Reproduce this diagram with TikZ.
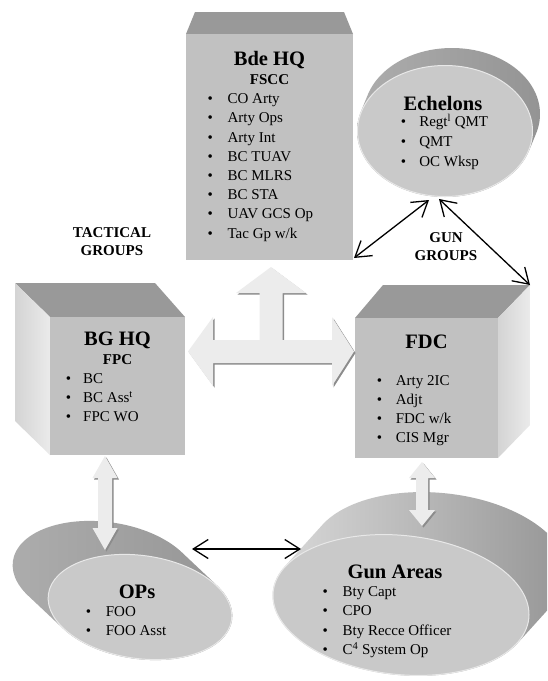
\documentclass[tikz,border=0pt]{standalone}
\usepackage{fontspec}
\setmainfont{Liberation Serif}
\usetikzlibrary{arrows.meta}
\definecolor{frontc}{HTML}{C1C1C1}
\definecolor{topc}{HTML}{999999}
\definecolor{sidec}{HTML}{E2E2E2}
\definecolor{cylfront}{HTML}{C9C9C9}
\definecolor{wafill}{HTML}{ECECEC}
\definecolor{washade}{HTML}{8C8C8C}
\tikzset{
  frontface/.style={fill=frontc},
  topface/.style={fill=topc},
  sideface/.style={left color=black!17, right color=black!8},
  echshade/.style={left color=black!32, middle color=black!22, right color=black!42},
  opsshade/.style={left color=black!32, middle color=black!15, right color=black!42},
  gunshade/.style={left color=black!14, middle color=black!20, right color=black!42},
  cylrim/.style={fill=cylfront, draw=black!9, line width=1pt},
  boxtitle/.style={font=\fontsize{20.5}{24}\selectfont\bfseries, inner sep=0pt},
  boxsub/.style={font=\fontsize{15}{18}\selectfont\bfseries, inner sep=0pt},
  boxitem/.style={font=\fontsize{15}{18}\selectfont, inner sep=0pt, anchor=west, text height=10.5pt, text depth=3pt},
  grouplbl/.style={font=\fontsize{15}{18}\selectfont\bfseries, align=center, inner sep=0pt},
  linkarrow/.style={line width=1.3pt, {Straight Barb[length=15pt,width=19pt]}-{Straight Barb[length=15pt,width=19pt]}},
  wide/.style={fill=wafill},
  wideshadow/.style={fill=washade},
}
% bullet list: name, bullet centre x, first y, line step, bullet box width, items
\newcommand{\bulletlist}[6]{%
  \foreach \t [count=\i] in {#6} {
    \node[boxitem] (#1-\i) at ({#2-2.6},{#3+(\i-1)*#4}) {\makebox[#5pt][l]{\textbullet}\t};
  }}
% cylinder: cx cy rx ry rot dx dy shading-style
\newcommand{\cylshape}[8]{%
  \begin{scope}[shift={(#1,#2)}, rotate=#5]
    \pgfmathsetmacro{\cyla}{(#6)*cos(#5)-(#7)*sin(#5)}
    \pgfmathsetmacro{\cylb}{(#6)*sin(#5)+(#7)*cos(#5)}
    \begin{scope}
      \clip \foreach \k in {0,...,40} {({\k*\cyla/40},{\k*\cylb/40}) ellipse [x radius=#3, y radius=#4]};
      \shade[#8] ({min(0,\cyla)-#3},{min(0,\cylb)-#4}) rectangle ({max(0,\cyla)+#3},{max(0,\cylb)+#4});
    \end{scope}
    \path[cylrim] (0,0) ellipse [x radius=#3-0.5, y radius=#4-0.5];
  \end{scope}}
% vertical double 3D arrow: cx ytop ybot headhalf headlen shafthalf
\newcommand{\vdarrow}[6]{%
  \fill[wideshadow, shift={(1.5,1.5)}] (#1,#2) -- ({#1+#4},{#2+#5}) -- ({#1+#6},{#2+#5}) -- ({#1+#6},{#3-#5}) -- ({#1+#4},{#3-#5}) -- (#1,#3) -- ({#1-#4},{#3-#5}) -- ({#1-#6},{#3-#5}) -- ({#1-#6},{#2+#5}) -- ({#1-#4},{#2+#5}) -- cycle;
  \fill[wide] (#1,#2) -- ({#1+#4},{#2+#5}) -- ({#1+#6},{#2+#5}) -- ({#1+#6},{#3-#5}) -- ({#1+#4},{#3-#5}) -- (#1,#3) -- ({#1-#4},{#3-#5}) -- ({#1-#6},{#3-#5}) -- ({#1-#6},{#2+#5}) -- ({#1-#4},{#2+#5}) -- cycle;}
\begin{document}
\begin{tikzpicture}[x=1pt,y=-1pt]
\path[use as bounding box, clip] (0,0) rectangle (547,681);
\fill[white] (0,0) rectangle (547,681);

% ---- Bde HQ box
\fill[topface] (195,12) -- (344,12) -- (353,34) -- (186,34) -- cycle;
\fill[frontface] (186,34) rectangle (353,260);
% ---- BG HQ cube
\fill[topface] (15,283) -- (155,283) -- (185,317) -- (50,317) -- cycle;
\shade[sideface] (15,283) -- (50,317) -- (50,455) -- (15,421) -- cycle;
\fill[frontface] (50,317) rectangle (185,455);
% ---- FDC cube
\fill[topface] (383,285) -- (530,285) -- (498,318) -- (355,318) -- cycle;
\shade[sideface] (498,318) -- (530,285) -- (530,425) -- (498,458) -- cycle;
\fill[frontface] (355,318) rectangle (498,458);

% ---- cylinders
\cylshape{445}{131}{88}{66}{0}{7}{-17}{echshade}
\cylshape{140}{607}{93}{52}{-8}{-35}{-33}{opsshade}
\cylshape{401}{605}{129}{70}{-6}{38}{-42}{gunshade}

% ---- 3D wide arrows
\fill[wideshadow, shift={(1.5,1.5)}] (271,267) -- (306,293) -- (282.5,293) -- (282.5,340) -- (332,340) -- (332,317) -- (354,351.5) -- (332,386) -- (332,363) -- (213,363) -- (213,386) -- (188,351.5) -- (213,317) -- (213,340) -- (259.5,340) -- (259.5,293) -- (236,293) -- cycle;
\fill[wide] (271,267) -- (306,293) -- (282.5,293) -- (282.5,340) -- (332,340) -- (332,317) -- (354,351.5) -- (332,386) -- (332,363) -- (213,363) -- (213,386) -- (188,351.5) -- (213,317) -- (213,340) -- (259.5,340) -- (259.5,293) -- (236,293) -- cycle;
\vdarrow{105}{456}{550}{12.5}{22}{7}
\vdarrow{422}{462}{526}{13}{16}{6}

% ---- thin connectors
\coordinate (bdeC) at (354,258);
\coordinate (echA) at (429,200);
\coordinate (echB) at (439,199);
\coordinate (fdcC) at (530,285);
\coordinate (opsR) at (192,549);
\coordinate (gunL) at (301,549);
\draw[linkarrow] (bdeC) -- (echA);
\draw[linkarrow] (echB) -- (fdcC);
\draw[linkarrow] (opsR) -- (gunL);

% ---- texts
\node[boxtitle] (bdeT) at (269.5,60) {Bde HQ};
\node[boxsub] (bdeS) at (269.5,80) {FSCC};
\bulletlist{bde}{210}{100}{19.2}{20}{CO Arty, Arty Ops, Arty Int, BC TUAV, BC MLRS, BC STA, UAV GCS Op, Tac Gp w/k}

\node[boxtitle] (echT) at (443,103) {Echelons};
\bulletlist{ech}{403.3}{123}{20}{18.4}{Regt\textsuperscript{l} QMT, QMT, OC Wksp}

\node[boxtitle] (bgT) at (117.5,340) {BG HQ};
\node[boxsub] (bgS) at (117.5,360) {FPC};
\bulletlist{bg}{68.3}{380}{19}{17.3}{BC, BC Ass\textsuperscript{t}, FPC WO}

\node[boxtitle] (fdcT) at (426.5,342) {FDC};
\bulletlist{fdc}{379.3}{382}{19}{19}{Arty 2IC, Adjt, FDC w/k, CIS Mgr}

\node[boxtitle] (opsT) at (137,592) {OPs};
\bulletlist{ops}{88.3}{613}{19}{20}{FOO, FOO Asst}

\node[boxtitle] (gunT) at (395,572) {Gun Areas};
\bulletlist{gun}{325}{593}{19.2}{20}{Bty Capt, CPO, Bty Recce Officer, C\textsuperscript{4} System Op}

\node[grouplbl] (tact) at (112,242) {TACTICAL\\GROUPS};
\node[grouplbl] (gung) at (446,247) {GUN\\GROUPS};
\end{tikzpicture}
\end{document}
